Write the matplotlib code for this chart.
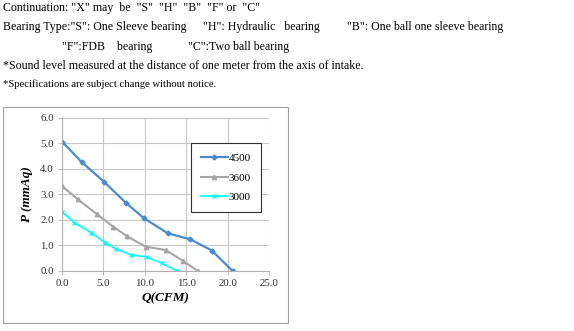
import matplotlib.pyplot as plt
from matplotlib.patches import Rectangle

# P-Q curves
q_4500 = [0.0, 2.4, 5.1, 7.7, 9.9, 12.8, 15.5, 18.1, 20.6]
p_4500 = [5.06, 4.25, 3.48, 2.67, 2.06, 1.47, 1.24, 0.80, 0.0]

q_3600 = [0.0, 1.9, 4.2, 6.2, 7.8, 10.1, 12.5, 14.6, 16.4]
p_3600 = [3.32, 2.80, 2.23, 1.73, 1.37, 0.95, 0.82, 0.40, 0.0]

q_3000 = [0.0, 1.5, 3.5, 5.2, 6.5, 8.3, 10.1, 12.1, 13.9]
p_3000 = [2.32, 1.89, 1.50, 1.11, 0.87, 0.63, 0.56, 0.30, 0.0]

x_ticks = [0, 5, 10, 15, 20, 25]
y_ticks = [0, 1, 2, 3, 4, 5, 6]

W, H = 574, 331
fig = plt.figure(figsize=(W / 100, H / 100), dpi=100)
serif = 'Liberation Serif'

# header text
lines = [
    (3, 8, 'Continuation: "X" may  be  "S"  "H"  "B"  "F" or  "C"'),
    (3, 27, 'Bearing Type:"S": One Sleeve bearing'),
    (203, 27, '"H": Hydraulic   bearing'),
    (347, 27, '"B": One ball one sleeve bearing'),
    (62, 47, '"F":FDB    bearing'),
    (188, 47, '"C":Two ball bearing'),
    (3, 66, '*Sound level measured at the distance of one meter from the axis of intake.'),
]
for x, y, s in lines:
    fig.text(x / W, 1 - y / H, s, family=serif, fontsize=8.6, va='center', ha='left')
fig.text(3 / W, 1 - 84 / H, '*Specifications are subject change without notice.',
         family=serif, fontsize=7.7, va='center', ha='left')

# chart frame
fig.add_artist(Rectangle((3 / W, 1 - 323 / H), 285 / W, 216 / H, transform=fig.transFigure,
                         fill=False, edgecolor='#a0a0a0', linewidth=0.8))

ax = fig.add_axes([62 / W, 60 / H, 207 / W, 153.5 / H])
ax.plot(q_4500, p_4500, color='#4a8bd0', marker='D', markersize=2.5, linewidth=1.6, label='4500')
ax.plot(q_3600, p_3600, color='#a5a5a5', marker='^', markersize=3.2, linewidth=1.5, label='3600')
ax.plot(q_3000, p_3000, color='#00ffff', marker='x', markersize=3.5, linewidth=1.2, label='3000')

ax.set_xlim(0, 25)
ax.set_ylim(0, 6)
ax.set_xticks(x_ticks)
ax.set_yticks(y_ticks)
ax.set_xticklabels(['%.1f' % v for v in x_ticks], family=serif, fontsize=7.8, color='#303030')
ax.set_yticklabels(['%.1f' % v for v in y_ticks], family=serif, fontsize=7.8, color='#303030')
ax.tick_params(length=3, color='#c0c0c0', width=0.8, pad=3)
ax.grid(True, color='#c8c8c8', linewidth=0.8)
ax.set_axisbelow(True)
for side in ['top', 'right']:
    ax.spines[side].set_visible(False)
for side in ['left', 'bottom']:
    ax.spines[side].set_color('#b0b0b0')

ax.set_xlabel('Q(CFM)', family=serif, fontsize=9.5, fontweight='bold', style='italic', labelpad=3)
ax.set_ylabel('P (mmAq)', family=serif, fontsize=9.5, fontweight='bold', style='italic', labelpad=5)

leg = ax.legend(loc='upper left', bbox_to_anchor=((191 - 62) / 207, (271 - 143) / 153.5),
                prop={'family': serif, 'size': 8}, fancybox=False, framealpha=1,
                edgecolor='#303030', handlelength=2.4, handletextpad=0.1,
                labelspacing=0.9, borderpad=0.9, borderaxespad=0)
leg.get_frame().set_linewidth(0.8)

fig.savefig('out.png', dpi=100)
